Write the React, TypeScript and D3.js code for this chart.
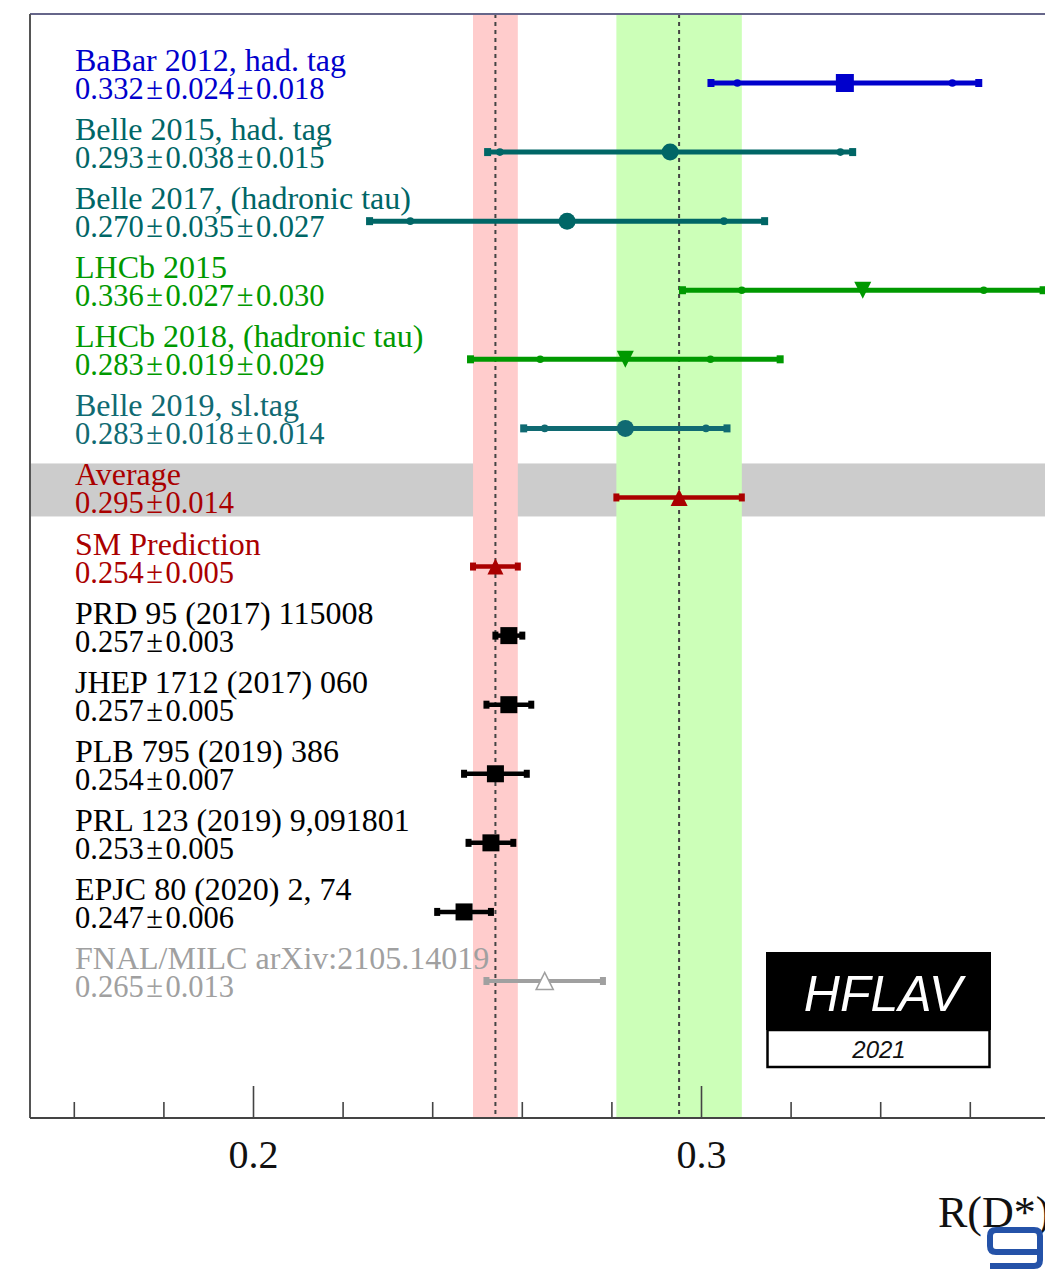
import React from "react";
import * as d3 from "d3";

// ---------- data ----------
const expNames = [
  "BaBar 2012, had. tag",
  "Belle 2015, had. tag",
  "Belle 2017, (hadronic tau)",
  "LHCb 2015",
  "LHCb 2018, (hadronic tau)",
  "Belle 2019, sl.tag",
];
const expValue = [0.332, 0.293, 0.27, 0.336, 0.283, 0.283];
const expStat = [0.024, 0.038, 0.035, 0.027, 0.019, 0.018];
const expSyst = [0.018, 0.015, 0.027, 0.03, 0.029, 0.014];
const expColor = ["#0000cc", "#006666", "#006666", "#009900", "#009900", "#106a72"];
const expMarker = ["square", "circle", "circle", "tridown", "tridown", "circle"];

const avgName = "Average";
const avgValue = 0.295;
const avgErr = 0.014;

const predNames = [
  "SM Prediction",
  "PRD 95 (2017) 115008",
  "JHEP 1712 (2017) 060",
  "PLB 795 (2019) 386",
  "PRL 123 (2019) 9,091801",
  "EPJC 80 (2020) 2, 74",
  "FNAL/MILC arXiv:2105.14019",
];
const predValue = [0.254, 0.257, 0.257, 0.254, 0.253, 0.247, 0.265];
const predErr = [0.005, 0.003, 0.005, 0.007, 0.005, 0.006, 0.013];
const predColor = ["#aa0000", "#000000", "#000000", "#000000", "#000000", "#000000", "#a0a0a0"];
const predMarker = ["triup", "square", "square", "square", "square", "square", "opentri"];

const majorTicks = [0.2, 0.3];
const minorTicks = [0.16, 0.18, 0.22, 0.24, 0.26, 0.28, 0.32, 0.34, 0.36];

const smBand = { value: 0.254, err: 0.005 };

// ---------- layout ----------
const W = 1045;
const H = 1271;
const frameLeft = 30;
const frameTop = 14;
const axisY = 1118;
const x = d3.scaleLinear().domain([0.2, 0.3]).range([253.5, 701.5]);
const y = d3.scaleLinear().domain([0, 13]).range([83, 981]);
const SERIF = "'Liberation Serif', 'Times New Roman', serif";
const SANS = "'Liberation Sans', Arial, sans-serif";

function fmt(v: number) {
  return v.toFixed(3);
}

function Marker({ type, cx, cy, color, size }: { type: string; cx: number; cy: number; color: string; size: number }) {
  const h = size / 2;
  if (type === "square") return <rect x={cx - h} y={cy - h} width={size} height={size} fill={color} />;
  if (type === "circle") return <circle cx={cx} cy={cy} r={h} fill={color} />;
  if (type === "tridown")
    return <path d={`M${cx - h},${cy - h}L${cx + h},${cy - h}L${cx},${cy + h}Z`} fill={color} />;
  if (type === "triup")
    return <path d={`M${cx - h},${cy + h}L${cx + h},${cy + h}L${cx},${cy - h}Z`} fill={color} />;
  if (type === "opentri")
    return (
      <path d={`M${cx - h},${cy + h}L${cx + h},${cy + h}L${cx},${cy - h}Z`} fill="#ffffff" stroke={color} strokeWidth={1.6} />
    );
  return null;
}

function Label({ row, name, values, color }: { row: number; name: string; values: number[]; color: string }) {
  const cy = y(row);
  const valueText = values.map(fmt).join("\u200A±\u200A");
  return (
    <g fill={color} fontFamily={SERIF}>
      <text x={75} y={cy - 12} fontSize={32}>
        {name}
      </text>
      <text x={75} y={cy + 16} fontSize={30.5}>
        {valueText}
      </text>
    </g>
  );
}

export default function App() {
  const avgRow = expNames.length;
  return (
    <svg
      width={W}
      height={H}
      viewBox={`0 0 ${W} ${H}`}
      style={{ position: "absolute", left: 0, top: 0, background: "#fff" }}
    >
      <rect x={0} y={0} width={W} height={H} fill="#ffffff" />
      {/* average grey band */}
      <rect x={frameLeft} y={y(avgRow) - 34} width={W - frameLeft} height={53} fill="#cccccc" />
      {/* SM band */}
      <rect
        x={x(smBand.value - smBand.err)}
        y={frameTop}
        width={x(smBand.value + smBand.err) - x(smBand.value - smBand.err)}
        height={axisY - frameTop}
        fill="#ffcccc"
      />
      {/* average band */}
      <rect
        x={x(avgValue - avgErr)}
        y={frameTop}
        width={x(avgValue + avgErr) - x(avgValue - avgErr)}
        height={axisY - frameTop}
        fill="#ccffb8"
      />
      <line x1={x(smBand.value)} x2={x(smBand.value)} y1={frameTop} y2={axisY} stroke="#444" strokeWidth={2} strokeDasharray="4,4" />
      <line x1={x(avgValue)} x2={x(avgValue)} y1={frameTop} y2={axisY} stroke="#444" strokeWidth={2} strokeDasharray="4,4" />

      {/* experiments */}
      {expNames.map((n, i) => {
        const v = expValue[i];
        const tot = Math.sqrt(expStat[i] ** 2 + expSyst[i] ** 2);
        const cy = y(i);
        const c = expColor[i];
        return (
          <g key={n}>
            <Label row={i} name={n} values={[v, expStat[i], expSyst[i]]} color={c} />
            <line x1={x(v - tot)} x2={x(v + tot)} y1={cy} y2={cy} stroke={c} strokeWidth={5} />
            <rect x={x(v - tot) - 3} y={cy - 4} width={7} height={8} fill={c} />
            <rect x={x(v + tot) - 4} y={cy - 4} width={7} height={8} fill={c} />
            <circle cx={x(v - expStat[i])} cy={cy} r={3.8} fill={c} />
            <circle cx={x(v + expStat[i])} cy={cy} r={3.8} fill={c} />
            <Marker type={expMarker[i]} cx={x(v)} cy={cy} color={c} size={i === 0 ? 18 : 17} />
          </g>
        );
      })}

      {/* average */}
      <g>
        <Label row={avgRow} name={avgName} values={[avgValue, avgErr]} color="#aa0000" />
        <line x1={x(avgValue - avgErr)} x2={x(avgValue + avgErr)} y1={y(avgRow)} y2={y(avgRow)} stroke="#aa0000" strokeWidth={4.5} />
        <rect x={x(avgValue - avgErr) - 3} y={y(avgRow) - 4} width={6} height={8} fill="#aa0000" />
        <rect x={x(avgValue + avgErr) - 3} y={y(avgRow) - 4} width={6} height={8} fill="#aa0000" />
        <Marker type="triup" cx={x(avgValue)} cy={y(avgRow)} color="#aa0000" size={17} />
      </g>

      {/* predictions */}
      {predNames.map((n, j) => {
        const row = avgRow + 1 + j;
        const cy = y(row);
        const v = predValue[j];
        const e = predErr[j];
        const c = predColor[j];
        return (
          <g key={n}>
            <Label row={row} name={n} values={[v, e]} color={c} />
            <line x1={x(v - e)} x2={x(v + e)} y1={cy} y2={cy} stroke={c} strokeWidth={j === 6 ? 4 : 4.5} />
            <rect x={x(v - e) - 3} y={cy - 4} width={6} height={8} fill={c} />
            <rect x={x(v + e) - 3} y={cy - 4} width={6} height={8} fill={c} />
            <Marker type={predMarker[j]} cx={x(v)} cy={cy} color={c} size={j === 0 ? 16 : 17} />
          </g>
        );
      })}

      {/* frame */}
      <line x1={frameLeft} x2={W} y1={frameTop} y2={frameTop} stroke="#66668a" strokeWidth={2} />
      <line x1={frameLeft} x2={frameLeft} y1={frameTop} y2={axisY} stroke="#555" strokeWidth={2} />
      <line x1={frameLeft} x2={W} y1={axisY} y2={axisY} stroke="#444" strokeWidth={2} />
      {majorTicks.map((t) => (
        <g key={t}>
          <line x1={x(t)} x2={x(t)} y1={axisY} y2={axisY - 32} stroke="#444" strokeWidth={1.6} />
          <text x={x(t)} y={1168} fontSize={40} fontFamily={SERIF} textAnchor="middle" fill="#111">
            {t.toFixed(1)}
          </text>
        </g>
      ))}
      {minorTicks.map((t) => (
        <line key={t} x1={x(t)} x2={x(t)} y1={axisY} y2={axisY - 16} stroke="#444" strokeWidth={1.6} />
      ))}
      <text x={938} y={1227} fontSize={44} fontFamily={SERIF} fill="#111">
        R(D*)
      </text>

      {/* HFLAV logo */}
      <rect x={766} y={952} width={225} height={78} fill="#000" />
      <rect x={767.5} y={1030} width={222} height={37} fill="#fff" stroke="#000" strokeWidth={2.5} />
      <text x={883} y={1011} fontSize={50} fontStyle="italic" fontFamily={SANS} fill="#fff" textAnchor="middle">
        HFLAV
      </text>
      <text x={879} y={1058} fontSize={24} fontStyle="italic" fontFamily={SANS} fill="#111" textAnchor="middle">
        2021
      </text>

      {/* corner watermark */}
      <path
        d="M1040,1252 L1040,1236 Q1040,1230 1034,1230 L996,1230 Q990,1230 990,1236 L990,1246 Q990,1252 996,1252 L1040,1252 M1040,1252 L1040,1260 Q1040,1266 1034,1266 L990,1266"
        fill="none"
        stroke="#2452a8"
        strokeWidth={6}
      />
    </svg>
  );
}
